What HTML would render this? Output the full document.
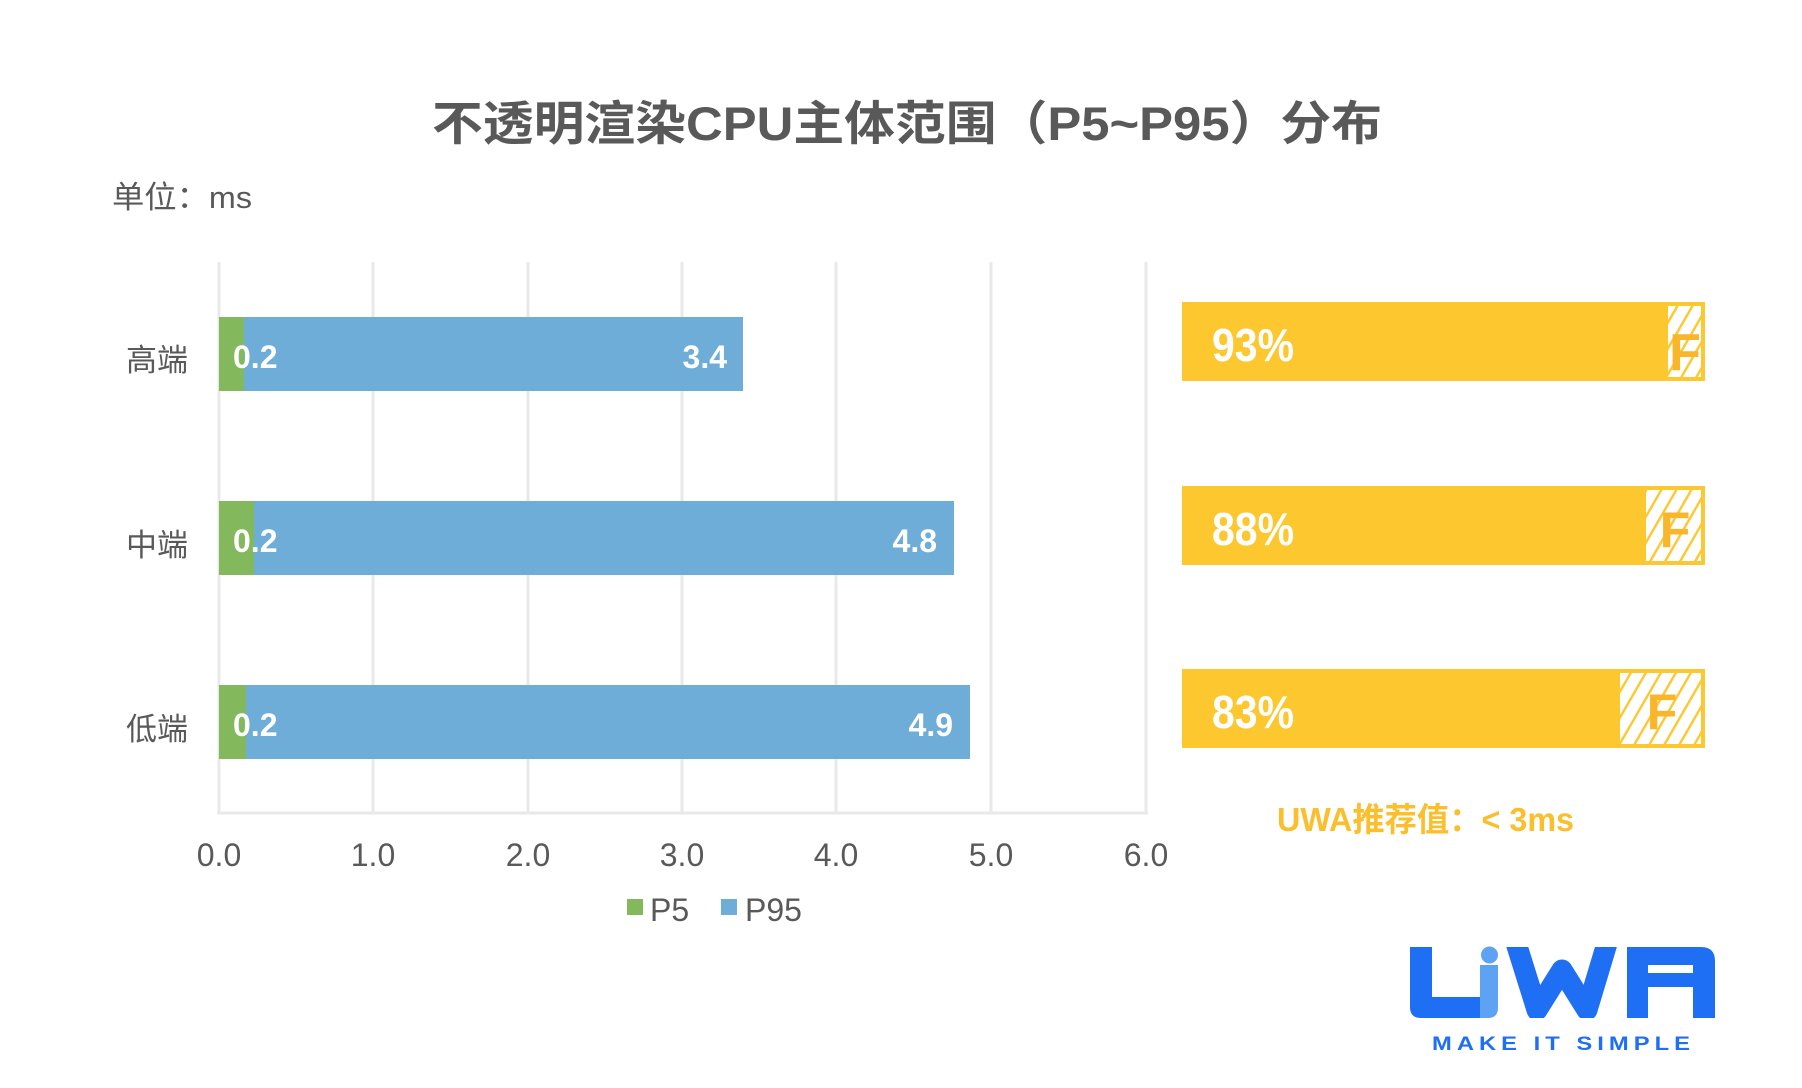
<!DOCTYPE html>
<html>
<head>
<meta charset="utf-8">
<style>
  html,body{margin:0;padding:0;background:#fff;}
  svg{display:block;}
  text{font-family:"Liberation Sans","Noto Sans CJK SC",sans-serif;}
</style>
</head>
<body>
<svg width="1802" height="1088" viewBox="0 0 1802 1088" xmlns="http://www.w3.org/2000/svg">
  <defs>
    <pattern id="hatch" patternUnits="userSpaceOnUse" width="13" height="13" patternTransform="rotate(30)">
      <rect width="13" height="13" fill="#ffffff"/>
      <rect x="5.5" y="0" width="2.4" height="13" fill="#fdc72f"/>
    </pattern>
    <clipPath id="wclip"><rect x="1495" y="947" width="130" height="71"/></clipPath>
  </defs>

  <rect width="1802" height="1088" fill="#ffffff"/>

  <!-- Title -->
  <text x="432" y="140" font-size="47" font-weight="bold" fill="#595959" textLength="950" lengthAdjust="spacingAndGlyphs">不透明渲染CPU主体范围（P5~P95）分布</text>

  <!-- Unit -->
  <text x="112" y="208" font-size="31" fill="#595959" textLength="140" lengthAdjust="spacingAndGlyphs">单位：ms</text>

  <!-- Gridlines -->
  <g stroke="#e9e9e9" stroke-width="3">
    <line x1="373" y1="262" x2="373" y2="813"/>
    <line x1="528" y1="262" x2="528" y2="813"/>
    <line x1="682" y1="262" x2="682" y2="813"/>
    <line x1="836" y1="262" x2="836" y2="813"/>
    <line x1="991" y1="262" x2="991" y2="813"/>
    <line x1="1146" y1="262" x2="1146" y2="813"/>
    <line x1="219" y1="262" x2="219" y2="813"/>
    <line x1="217" y1="813" x2="1148" y2="813"/>
  </g>

  <!-- Bars -->
  <rect x="219" y="317" width="524" height="74" fill="#6fadd9"/>
  <rect x="219" y="317" width="25" height="74" fill="#83b85c"/>
  <rect x="219" y="501" width="735" height="74" fill="#6fadd9"/>
  <rect x="219" y="501" width="35" height="74" fill="#83b85c"/>
  <rect x="219" y="685" width="751" height="74" fill="#6fadd9"/>
  <rect x="219" y="685" width="27" height="74" fill="#83b85c"/>

  <!-- Data labels -->
  <g font-size="32" font-weight="bold" fill="#ffffff">
    <text x="233" y="368">0.2</text>
    <text x="233" y="552">0.2</text>
    <text x="233" y="736">0.2</text>
    <text x="727" y="368" text-anchor="end">3.4</text>
    <text x="937" y="552" text-anchor="end">4.8</text>
    <text x="953" y="736" text-anchor="end">4.9</text>
  </g>

  <!-- Category labels -->
  <g font-size="31" fill="#595959" text-anchor="end">
    <text x="188" y="371">高端</text>
    <text x="188" y="556">中端</text>
    <text x="188" y="740">低端</text>
  </g>

  <!-- X tick labels -->
  <g font-size="32" fill="#595959" text-anchor="middle">
    <text x="219" y="866">0.0</text>
    <text x="373" y="866">1.0</text>
    <text x="528" y="866">2.0</text>
    <text x="682" y="866">3.0</text>
    <text x="836" y="866">4.0</text>
    <text x="991" y="866">5.0</text>
    <text x="1146" y="866">6.0</text>
  </g>

  <!-- Legend -->
  <rect x="627" y="899" width="16" height="16" fill="#83b85c"/>
  <text x="650" y="921" font-size="32" fill="#595959">P5</text>
  <rect x="721" y="899" width="16" height="16" fill="#6fadd9"/>
  <text x="745" y="921" font-size="32" fill="#595959">P95</text>

  <!-- Right yellow bars -->
  <g>
    <rect x="1182" y="302" width="523" height="79" fill="#fdc72f"/>
    <rect x="1668" y="306" width="33" height="71" fill="url(#hatch)"/>
    <text x="1685" y="370" font-size="52" font-weight="bold" fill="#f9b62a" text-anchor="middle">F</text>

    <rect x="1182" y="486" width="523" height="79" fill="#fdc72f"/>
    <rect x="1646" y="490" width="55" height="71" fill="url(#hatch)"/>
    <text x="1675" y="547" font-size="50" font-weight="bold" fill="#f9b62a" text-anchor="middle">F</text>

    <rect x="1182" y="669" width="523" height="79" fill="#fdc72f"/>
    <rect x="1620" y="673" width="81" height="71" fill="url(#hatch)"/>
    <text x="1662" y="729" font-size="50" font-weight="bold" fill="#f9b62a" text-anchor="middle">F</text>
  </g>
  <g font-size="46" font-weight="bold" fill="#ffffff">
    <text x="1212" y="361" textLength="82" lengthAdjust="spacingAndGlyphs">93%</text>
    <text x="1212" y="545" textLength="82" lengthAdjust="spacingAndGlyphs">88%</text>
    <text x="1212" y="728" textLength="82" lengthAdjust="spacingAndGlyphs">83%</text>
  </g>

  <!-- Recommendation -->
  <text x="1277" y="831" font-size="33" font-weight="bold" fill="#fbbf2d" textLength="297" lengthAdjust="spacingAndGlyphs">UWA推荐值：&lt; 3ms</text>

  <!-- Logo -->
  <g>
    <path d="M1410,947 H1432 V997 H1481 V1018 H1421 Q1410,1018 1410,1007 Z" fill="#1f6ff4"/>
    <path d="M1480,965 H1498 V1008 Q1498,1018 1488,1018 H1480 Z" fill="#5ea2f3"/>
    <circle cx="1489.5" cy="955" r="8.5" fill="#5ea2f3"/>
    <g clip-path="url(#wclip)">
      <polyline points="1512,930 1537,1010 1562,970 1587,1010 1611,930" fill="none" stroke="#1f6ff4" stroke-width="21" stroke-linejoin="round"/>
    </g>
    <path fill-rule="evenodd" fill="#1f6ff4" d="M1627,1018 V947 H1701 Q1715,947 1715,961 V1018 H1693 V987 H1648 V1018 Z M1648,965 H1693 V973 H1648 Z"/>
    <text x="1432" y="1050" font-size="19" font-weight="bold" fill="#1f6ff4" textLength="263" lengthAdjust="spacingAndGlyphs" letter-spacing="4">MAKE IT SIMPLE</text>
  </g>
</svg>
</body>
</html>
